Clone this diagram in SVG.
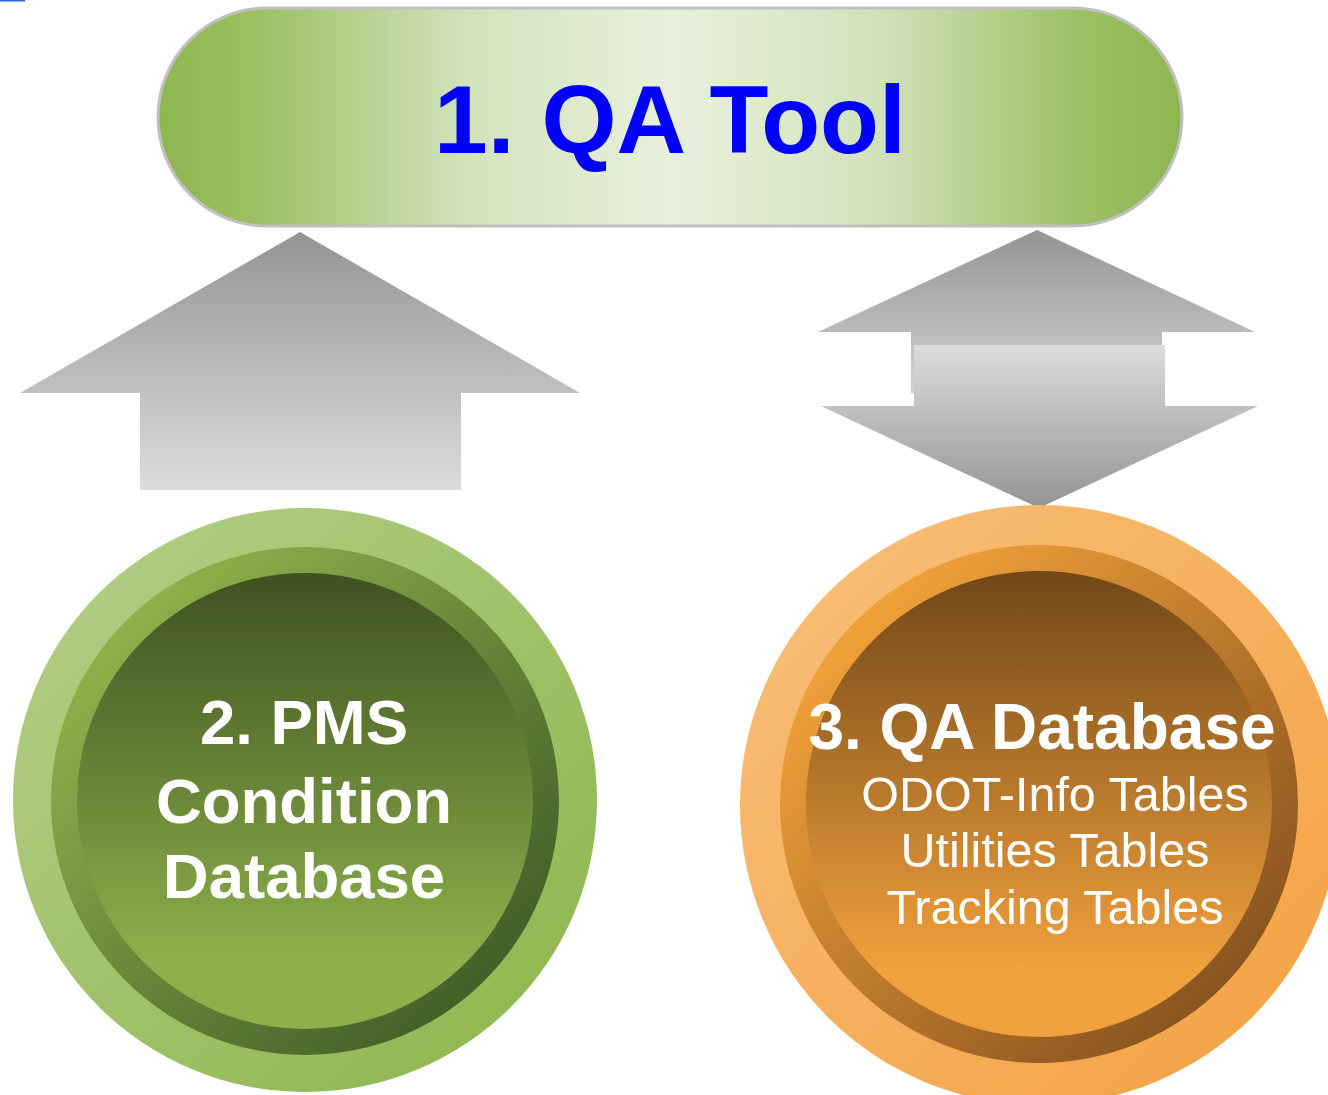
<svg xmlns="http://www.w3.org/2000/svg" width="1328" height="1095" viewBox="0 0 1328 1095">
<defs>
<linearGradient id="pill" x1="0" y1="0" x2="1" y2="0">
<stop offset="0" stop-color="#8db650"/>
<stop offset="0.1" stop-color="#9dc064"/>
<stop offset="0.3" stop-color="#d2e2bc"/>
<stop offset="0.5" stop-color="#e8f0dc"/>
<stop offset="0.7" stop-color="#d2e2bc"/>
<stop offset="0.9" stop-color="#9dc064"/>
<stop offset="1" stop-color="#8db650"/>
</linearGradient>
<linearGradient id="arrUp" x1="0" y1="0" x2="0" y2="1">
<stop offset="0" stop-color="#949494"/>
<stop offset="1" stop-color="#dcdcdc"/>
</linearGradient>
<linearGradient id="arrUp2" x1="0" y1="0" x2="0" y2="1">
<stop offset="0" stop-color="#949494"/>
<stop offset="1" stop-color="#d2d2d2"/>
</linearGradient>
<linearGradient id="arrDown" x1="0" y1="0" x2="0" y2="1">
<stop offset="0" stop-color="#dcdcdc"/>
<stop offset="1" stop-color="#949494"/>
</linearGradient>
<linearGradient id="gOuter" x1="0" y1="0" x2="1" y2="1">
<stop offset="0" stop-color="#b4d08a"/>
<stop offset="1" stop-color="#8cb44a"/>
</linearGradient>
<linearGradient id="gMid" x1="0" y1="0" x2="1" y2="1">
<stop offset="0.15" stop-color="#8db04a"/>
<stop offset="0.85" stop-color="#44602a"/>
</linearGradient>
<linearGradient id="gInner" x1="0" y1="0" x2="0" y2="1">
<stop offset="0" stop-color="#3e5222"/>
<stop offset="0.85" stop-color="#8db04a"/>
</linearGradient>
<linearGradient id="oOuter" x1="0" y1="0" x2="1" y2="1">
<stop offset="0" stop-color="#f8c07c"/>
<stop offset="1" stop-color="#f4a040"/>
</linearGradient>
<linearGradient id="oMid" x1="0" y1="0" x2="1" y2="1">
<stop offset="0.15" stop-color="#f0a038"/>
<stop offset="0.85" stop-color="#8a5520"/>
</linearGradient>
<linearGradient id="oInner" x1="0" y1="0" x2="0" y2="1">
<stop offset="0" stop-color="#724818"/>
<stop offset="0.85" stop-color="#f0a03c"/>
</linearGradient>
<style>
.bold{font-family:"Liberation Sans",Arial,sans-serif;font-weight:bold;fill:#ffffff;text-anchor:middle}
.reg{font-family:"Liberation Sans",Arial,sans-serif;fill:#ffffff;text-anchor:middle;font-size:48.5px}
</style>
</defs>
<rect x="0" y="0" width="25" height="1.5" fill="#2a62d8"/>
<g id="qa-tool">
<rect x="158" y="8" width="1024" height="218" rx="109" ry="109" fill="url(#pill)" stroke="#c0c0c0" stroke-width="3"/>
<text x="670" y="153" font-family="'Liberation Sans',Arial,sans-serif" font-weight="bold" font-size="96.5" fill="#0000ff" text-anchor="middle">1. QA Tool</text>
</g>
<g id="connectors">
<polygon points="300,232 580,393 461,393 461,490 140,490 140,393 20,393" fill="url(#arrUp)"/>
<polygon points="1037,230 1255,332 1162,332 1162,393 911,393 911,332 818,332" fill="url(#arrUp2)"/>
<polygon points="914,345 1165,345 1165,406 1258,406 1039,508 821,406 914,406" fill="url(#arrDown)"/>
</g>
<g id="pms-db">
<circle cx="305" cy="800" r="292" fill="url(#gOuter)"/>
<circle cx="305" cy="801" r="254" fill="url(#gMid)"/>
<circle cx="305" cy="801" r="228" fill="url(#gInner)"/>
<text class="bold" x="304" y="744" font-size="63.5">2. PMS</text>
<text class="bold" x="304" y="823" font-size="63.5">Condition</text>
<text class="bold" x="304" y="898" font-size="63.5">Database</text>
</g>
<g id="qa-db">
<circle cx="1040" cy="805" r="300" fill="url(#oOuter)"/>
<circle cx="1039" cy="804" r="259" fill="url(#oMid)"/>
<circle cx="1039" cy="804" r="233" fill="url(#oInner)"/>
<text class="bold" x="1042" y="749" font-size="64">3. QA Database</text>
<text class="reg" x="1055" y="811">ODOT-Info Tables</text>
<text class="reg" x="1055" y="867">Utilities Tables</text>
<text class="reg" x="1055" y="924">Tracking Tables</text>
</g>
</svg>
